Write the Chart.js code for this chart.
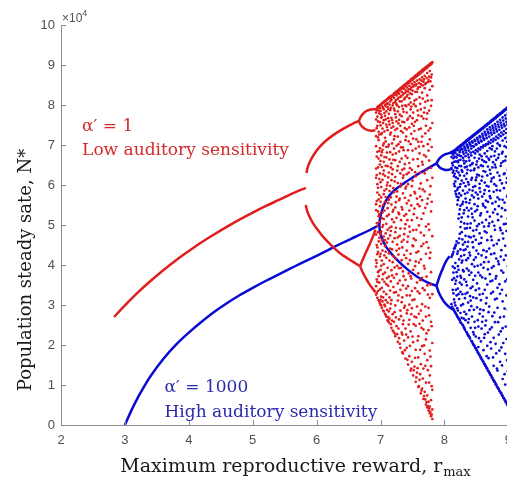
<!DOCTYPE html>
<html>
<head>
<meta charset="utf-8">
<script src="https://cdn.jsdelivr.net/npm/chart.js@4.4.1/dist/chart.umd.min.js"></script>
<style>
  html, body { margin: 0; padding: 0; overflow: hidden; background: #fff; }
  canvas { display: block; }
</style>
</head>
<body>
<canvas id="chart" width="520" height="479"></canvas>
<script>
// axis ticks (N* is in units of 10^4)
const xTicks = [2, 3, 4, 5, 6, 7, 8, 9]
const yTicks = [0, 1, 2, 3, 4, 5, 6, 7, 8, 9, 10]

// alpha' = 1 (low auditory sensitivity): [r_max, N*]
const redMain = [[2.83, 2.70], [3.0, 2.99], [3.2, 3.31], [3.4, 3.60], [3.6, 3.87], [3.8, 4.12], [4.0, 4.35],
  [4.2, 4.57], [4.4, 4.77], [4.6, 4.96], [4.8, 5.14], [5.0, 5.31], [5.2, 5.47], [5.4, 5.62], [5.6, 5.77], [5.83, 5.93]]
const redUpper2 = [[5.84, 6.30], [5.86, 6.44], [5.9, 6.60], [5.96, 6.77], [6.04, 6.94], [6.14, 7.10], [6.27, 7.26], [6.42, 7.41], [6.56, 7.53], [6.66, 7.60]]
const redLower2 = [[5.83, 5.50], [5.85, 5.36], [5.89, 5.20], [5.95, 5.03], [6.03, 4.85], [6.12, 4.67], [6.23, 4.49], [6.36, 4.30], [6.5, 4.15], [6.6, 4.05], [6.68, 3.97]]
const redUpper4a = [[6.66, 7.60], [6.70, 7.73], [6.76, 7.83], [6.83, 7.88], [6.92, 7.90]]
const redUpper4b = [[6.66, 7.60], [6.70, 7.48], [6.76, 7.40], [6.83, 7.36], [6.92, 7.37]]
const redLower4a = [[6.68, 3.97], [6.72, 4.13], [6.77, 4.31], [6.83, 4.52], [6.88, 4.71], [6.92, 4.88]]
const redLower4b = [[6.68, 3.97], [6.72, 3.82], [6.77, 3.67], [6.83, 3.51], [6.92, 3.32]]
// chaotic region: [r_max, [N* values]]
const redChaos = [
  [6.93, [7.90, 7.81, 7.64, 7.22, 6.97, 6.41, 6.18, 5.52, 5.37, 4.76, 4.12, 3.96, 3.47, 3.26]],
  [6.94, [7.87, 7.42, 6.71, 6.25, 5.60, 5.05, 4.50, 4.05, 3.64, 3.30]],
  [6.95, [7.94, 7.71, 7.48, 6.83, 6.02, 5.81, 4.98, 4.44, 4.27, 3.58, 3.18]],
  [6.96, [7.96, 7.59, 7.19, 6.44, 5.93, 5.34, 4.82, 4.33, 3.82, 3.35]],
  [6.97, [7.97, 7.86, 7.33, 7.12, 6.66, 5.64, 5.22, 4.59, 3.85, 3.72, 3.12]],
  [6.98, [7.93, 7.79, 7.26, 6.85, 6.15, 5.75, 5.27, 4.68, 3.56, 3.09]],
  [6.99, [7.99, 7.92, 7.57, 6.92, 6.51, 6.29, 5.47, 5.08, 4.21, 3.39, 3.04]],
  [7.00, [8.01, 7.85, 7.49, 6.60, 6.07, 5.58, 4.77, 4.28, 3.88, 3.13, 3.00]],
  [7.01, [8.01, 7.76, 7.68, 7.27, 6.74, 5.95, 5.69, 4.84, 4.53, 3.98, 3.21, 2.99]],
  [7.02, [8.04, 7.70, 7.30, 6.82, 6.45, 5.17, 4.62, 4.11, 3.43, 2.93]],
  [7.03, [8.05, 7.96, 7.41, 6.88, 6.13, 5.31, 4.95, 4.36, 3.64, 3.09]],
  [7.04, [8.06, 7.92, 7.55, 6.99, 6.27, 5.50, 5.00, 3.77, 3.19, 2.86]],
  [7.05, [8.07, 7.89, 7.62, 7.04, 6.58, 6.36, 5.77, 5.15, 4.71, 4.02, 3.33, 2.84]],
  [7.06, [8.09, 7.80, 7.34, 6.70, 5.86, 5.36, 4.24, 3.58, 3.01]],
  [7.07, [8.10, 8.01, 7.73, 7.18, 6.23, 5.58, 4.62, 4.47, 3.81, 2.97, 2.78]],
  [7.08, [8.11, 7.97, 7.64, 7.09, 6.48, 5.70, 4.79, 4.33, 3.12, 2.75]],
  [7.09, [8.12, 7.84, 7.51, 6.95, 6.69, 5.90, 5.03, 4.18, 3.52, 3.27, 2.71]],
  [7.10, [8.14, 8.03, 7.45, 6.81, 5.99, 5.22, 4.56, 3.67, 2.88]],
  [7.11, [8.15, 8.05, 7.95, 7.37, 6.47, 6.06, 5.42, 4.88, 3.93, 3.06, 2.62]],
  [7.12, [8.17, 7.90, 7.67, 6.96, 6.19, 5.55, 4.66, 3.48, 2.70, 2.60]],
  [7.13, [8.17, 7.78, 7.59, 7.01, 6.31, 5.63, 5.26, 4.29, 3.71, 2.84, 2.56]],
  [7.14, [8.20, 8.01, 7.51, 6.64, 5.85, 4.93, 4.11, 3.19, 2.66]],
  [7.15, [8.21, 8.09, 7.87, 7.26, 6.82, 5.98, 4.74, 4.41, 3.36, 2.91]],
  [7.16, [8.16, 7.93, 7.31, 6.44, 5.69, 4.85, 3.59, 3.03, 2.52]],
  [7.17, [8.23, 8.13, 7.68, 7.43, 6.54, 6.12, 5.51, 4.96, 3.87, 3.12, 2.43]],
  [7.18, [8.21, 7.62, 7.04, 6.27, 5.14, 4.39, 3.74, 2.61]],
  [7.19, [8.25, 7.99, 7.55, 6.76, 6.39, 5.33, 4.58, 4.07, 2.77, 2.36]],
  [7.20, [8.24, 8.05, 7.46, 6.63, 5.92, 5.38, 4.22, 3.45, 2.34]],
  [7.21, [8.29, 8.18, 7.91, 7.14, 6.91, 5.82, 5.07, 3.68, 3.31, 2.58]],
  [7.22, [8.26, 7.86, 7.22, 6.09, 4.67, 3.94, 2.82, 2.29]],
  [7.23, [8.31, 8.07, 7.77, 7.38, 6.62, 6.20, 5.44, 4.82, 4.16, 2.99, 2.22]],
  [7.24, [8.29, 8.12, 7.69, 6.79, 5.57, 4.93, 3.32, 2.69]],
  [7.25, [8.34, 8.24, 8.02, 7.59, 6.98, 5.71, 5.18, 4.36, 3.77, 2.47]],
  [7.26, [8.30, 7.99, 7.41, 6.36, 5.84, 4.51, 3.98, 2.27]],
  [7.27, [8.36, 8.15, 7.84, 7.21, 6.47, 6.05, 4.69, 3.54, 3.11, 2.08]],
  [7.28, [8.33, 8.18, 7.54, 7.02, 5.31, 4.26, 3.24, 2.41]],
  [7.29, [8.39, 8.28, 7.95, 7.63, 6.84, 5.62, 5.27, 4.41, 3.92, 2.64, 2.17]],
  [7.30, [8.37, 8.09, 7.76, 6.58, 5.66, 4.73, 3.61, 2.03]],
  [7.31, [8.42, 8.20, 7.48, 7.08, 6.29, 5.96, 4.91, 3.38, 2.86, 1.93]],
  [7.32, [8.40, 8.22, 7.35, 6.94, 6.03, 5.12, 3.93, 2.72]],
  [7.33, [8.44, 8.33, 8.09, 7.72, 6.66, 5.45, 4.58, 4.12, 3.07, 2.31]],
  [7.34, [8.42, 7.98, 7.58, 6.38, 5.39, 4.44, 3.19, 2.26, 1.82]],
  [7.35, [8.47, 8.26, 7.90, 7.31, 6.94, 6.18, 5.79, 3.84, 3.49, 2.52, 1.79]],
  [7.36, [8.45, 8.29, 7.83, 6.87, 6.24, 4.63, 3.72, 2.61]],
  [7.37, [8.50, 8.40, 8.14, 7.57, 6.41, 5.23, 4.77, 4.25, 2.93, 2.11]],
  [7.38, [8.48, 8.18, 7.42, 6.52, 5.68, 4.91, 2.98, 1.87]],
  [7.39, [8.52, 8.31, 7.99, 7.12, 6.73, 5.91, 5.02, 3.63, 2.41, 1.66]],
  [7.40, [8.50, 8.36, 7.97, 7.21, 5.96, 5.27, 4.17, 3.41, 2.26]],
  [7.41, [8.55, 8.44, 8.21, 7.81, 7.39, 6.27, 5.54, 4.36, 3.24, 2.79, 1.93]],
  [7.42, [8.53, 8.25, 7.63, 6.68, 5.12, 4.58, 2.87, 1.63]],
  [7.43, [8.58, 8.34, 7.66, 6.87, 6.02, 4.71, 4.03, 3.47, 2.19, 1.51]],
  [7.44, [8.55, 8.40, 8.01, 7.09, 6.31, 5.61, 3.79, 2.51]],
  [7.45, [8.60, 8.48, 8.17, 7.44, 6.55, 5.36, 4.96, 3.01, 2.63, 1.72]],
  [7.46, [8.58, 8.29, 7.72, 6.42, 4.83, 4.12, 3.24, 1.98]],
  [7.47, [8.63, 8.39, 8.06, 7.89, 7.02, 5.74, 4.28, 3.72, 2.34, 1.36]],
  [7.48, [8.61, 8.44, 7.96, 7.28, 5.49, 3.66, 2.77, 1.41]],
  [7.49, [8.66, 8.53, 8.27, 7.53, 6.38, 5.97, 5.12, 3.35, 2.92, 1.58]],
  [7.50, [8.63, 8.36, 7.67, 6.86, 6.11, 4.49, 3.12, 2.21]],
  [7.51, [8.68, 8.46, 7.81, 7.16, 6.64, 4.87, 4.47, 3.88, 2.07, 1.24]],
  [7.52, [8.66, 8.49, 8.02, 7.48, 5.27, 4.66, 2.52, 1.37]],
  [7.53, [8.71, 8.57, 8.11, 7.35, 5.83, 5.41, 3.14, 2.71, 1.46]],
  [7.54, [8.69, 8.33, 7.58, 6.32, 5.79, 3.97, 3.42, 1.68]],
  [7.55, [8.74, 8.49, 7.97, 6.91, 6.22, 4.62, 4.09, 2.48, 1.88, 1.08]],
  [7.56, [8.71, 8.52, 8.14, 7.14, 4.88, 4.31, 2.69, 1.19]],
  [7.57, [8.76, 8.61, 8.33, 7.62, 5.66, 5.18, 3.56, 2.96, 1.31]],
  [7.58, [8.74, 8.40, 7.86, 6.65, 5.52, 3.34, 2.11, 1.42]],
  [7.59, [8.79, 8.44, 7.74, 7.08, 6.47, 4.34, 3.79, 2.22, 1.69, 0.95]],
  [7.60, [8.76, 8.55, 7.39, 6.96, 4.99, 4.06, 2.78, 0.97]],
  [7.61, [8.82, 8.64, 8.19, 6.79, 5.91, 5.47, 3.29, 2.53, 1.13]],
  [7.62, [8.79, 8.45, 8.03, 6.31, 5.71, 3.62, 1.88, 1.27]],
  [7.63, [8.84, 8.52, 7.89, 7.41, 6.04, 4.81, 4.14, 2.86, 1.52, 0.79]],
  [7.64, [8.82, 8.61, 7.72, 7.08, 5.15, 4.47, 2.43, 0.86]],
  [7.65, [8.87, 8.69, 8.31, 7.21, 6.58, 5.62, 3.68, 3.02, 1.97, 0.91]],
  [7.66, [8.84, 8.49, 8.16, 6.51, 5.89, 3.42, 2.61, 1.16]],
  [7.67, [8.90, 8.58, 7.66, 6.97, 5.29, 4.53, 2.39, 1.41, 0.65]],
  [7.68, [8.87, 8.64, 7.81, 6.75, 4.74, 3.98, 1.99, 0.72]],
  [7.69, [8.92, 8.73, 8.42, 7.93, 6.29, 5.84, 3.91, 3.37, 1.78, 0.83]],
  [7.70, [8.90, 8.52, 8.08, 7.29, 5.43, 2.96, 1.48, 0.64]],
  [7.71, [8.95, 8.55, 7.48, 6.71, 4.96, 4.28, 2.71, 2.14, 1.06, 0.51]],
  [7.72, [8.92, 8.68, 7.65, 6.38, 4.57, 3.71, 2.29, 0.57]],
  [7.73, [8.97, 8.80, 8.24, 7.79, 6.12, 5.53, 3.49, 1.62, 0.74, 0.44]],
  [7.74, [8.95, 8.57, 8.11, 7.02, 5.66, 3.26, 1.37, 0.47]],
  [7.75, [9.00, 8.63, 7.36, 6.86, 5.02, 4.43, 2.93, 2.37, 0.58, 0.36]],
  [7.76, [8.98, 8.71, 7.86, 6.61, 4.88, 2.74, 1.06, 0.41]],
  [7.77, [9.03, 8.85, 8.38, 7.14, 5.76, 4.17, 3.18, 1.86, 1.24, 0.46, 0.29]],
  [7.78, [9.00, 8.59, 7.42, 5.97, 4.31, 3.51, 1.71, 0.33]],
  [7.79, [9.05, 8.69, 7.98, 6.43, 5.34, 3.82, 2.58, 1.47, 0.62, 0.22]],
  [7.80, [9.03, 8.76, 8.12, 6.95, 5.58, 2.47, 0.97, 0.26]],
  [7.81, [9.07, 8.47, 7.55, 6.18, 4.72, 3.27, 2.05, 0.88, 0.39, 0.15]]
]

// alpha' = 1000 (high auditory sensitivity): [r_max, N*]
const blueMain = [[3.0, 0.0], [3.1, 0.36], [3.2, 0.68], [3.3, 0.96], [3.4, 1.22], [3.6, 1.65], [3.8, 2.01], [4.0, 2.31],
  [4.2, 2.58], [4.4, 2.83], [4.6, 3.05], [4.8, 3.25], [5.0, 3.43], [5.2, 3.60], [5.4, 3.76], [5.6, 3.92], [5.8, 4.08],
  [6.0, 4.23], [6.2, 4.39], [6.4, 4.55], [6.6, 4.70], [6.8, 4.85], [6.98, 5.00]]
const blueUpper2 = [[6.98, 5.00], [6.99, 5.15], [7.02, 5.35], [7.07, 5.56], [7.14, 5.74], [7.24, 5.90], [7.38, 6.06], [7.53, 6.22], [7.7, 6.38], [7.875, 6.54]]
const blueLower2 = [[6.98, 5.00], [6.99, 4.86], [7.02, 4.68], [7.07, 4.50], [7.15, 4.32], [7.27, 4.11], [7.42, 3.89], [7.58, 3.70], [7.74, 3.56], [7.875, 3.48]]
const blueUpper4a = [[7.875, 6.54], [7.93, 6.68], [8.0, 6.76], [8.06, 6.79], [8.12, 6.82]]
const blueUpper4b = [[7.875, 6.54], [7.93, 6.43], [8.0, 6.38], [8.06, 6.38], [8.12, 6.41]]
const blueLower4a = [[7.875, 3.48], [7.92, 3.70], [7.97, 3.90], [8.02, 4.08], [8.08, 4.22]]
const blueLower4b = [[7.875, 3.48], [7.92, 3.28], [7.99, 3.09], [8.06, 2.97], [8.13, 2.89]]
const blueChaos = [
  [8.11, [6.82, 6.70, 6.42, 4.20, 3.02, 2.93]],
  [8.12, [6.80, 6.55, 4.24, 3.63, 2.95]],
  [8.13, [6.84, 6.76, 6.49, 6.31, 4.28, 3.96, 3.38, 2.91]],
  [8.14, [6.83, 6.67, 6.36, 4.33, 3.81, 3.29, 2.89]],
  [8.15, [6.86, 6.79, 6.58, 6.22, 6.03, 4.41, 3.67, 3.14, 2.86]],
  [8.16, [6.85, 6.71, 6.28, 5.97, 4.42, 3.92, 3.06, 2.83]],
  [8.17, [6.88, 6.81, 6.44, 6.09, 5.84, 4.47, 4.05, 3.53, 2.99, 2.80]],
  [8.18, [6.87, 6.59, 6.19, 5.77, 4.51, 3.61, 3.38, 2.78]],
  [8.19, [6.91, 6.69, 6.35, 5.71, 4.59, 3.82, 3.24, 2.75]],
  [8.20, [6.90, 6.76, 6.42, 5.88, 5.51, 4.28, 3.71, 2.92, 2.72]],
  [8.21, [6.94, 6.87, 6.57, 6.16, 5.93, 5.62, 4.34, 3.97, 3.41, 2.86, 2.69]],
  [8.22, [6.93, 6.61, 6.31, 5.69, 5.16, 4.55, 3.88, 3.27, 2.67]],
  [8.23, [6.96, 6.74, 6.48, 5.79, 5.27, 4.66, 4.14, 3.15, 2.64]],
  [8.24, [6.95, 6.82, 6.24, 5.95, 5.39, 4.78, 3.56, 2.62]],
  [8.25, [6.99, 6.88, 6.63, 6.02, 5.48, 4.95, 4.39, 3.73, 3.33, 2.80, 2.57]],
  [8.26, [6.98, 6.72, 6.47, 5.74, 5.08, 4.22, 3.68, 2.99, 2.55]],
  [8.27, [7.01, 6.91, 6.37, 6.11, 5.19, 4.82, 4.06, 3.51, 2.68]],
  [8.28, [7.00, 6.89, 6.33, 5.52, 4.64, 4.11, 3.27, 2.51]],
  [8.29, [7.04, 6.83, 6.68, 5.86, 5.58, 4.51, 3.87, 3.02, 2.49]],
  [8.30, [7.03, 6.78, 6.61, 6.05, 5.29, 4.37, 3.84, 2.66, 2.45]],
  [8.31, [7.06, 6.96, 6.54, 6.23, 5.37, 5.04, 4.25, 3.64, 2.83, 2.42]],
  [8.32, [7.06, 6.92, 6.44, 5.78, 4.91, 4.57, 3.17, 2.38]],
  [8.33, [7.09, 6.87, 6.72, 5.97, 5.66, 4.73, 4.39, 3.28, 2.62]],
  [8.34, [7.08, 6.81, 6.59, 6.15, 5.57, 4.12, 3.58, 2.77, 2.33]],
  [8.35, [7.12, 7.01, 6.46, 6.29, 5.43, 4.92, 3.91, 3.49, 2.31]],
  [8.36, [7.11, 6.97, 6.38, 5.81, 5.03, 4.46, 3.31, 2.27]],
  [8.37, [7.14, 6.93, 6.76, 6.07, 5.21, 4.58, 4.17, 3.06, 2.56, 2.25]],
  [8.38, [7.13, 6.86, 6.69, 6.01, 5.36, 4.71, 3.86, 2.65, 2.22]],
  [8.39, [7.17, 7.06, 6.61, 5.88, 5.55, 4.31, 3.75, 2.87, 2.20]],
  [8.40, [7.16, 7.02, 6.49, 5.63, 4.93, 4.24, 3.22, 2.16]],
  [8.41, [7.19, 6.98, 6.81, 6.36, 5.04, 4.69, 3.42, 3.11, 2.43]],
  [8.42, [7.19, 6.91, 6.74, 6.13, 5.41, 3.81, 2.97, 2.10]],
  [8.43, [7.22, 7.09, 6.52, 6.18, 5.74, 5.28, 4.02, 2.71, 2.09]],
  [8.44, [7.21, 7.06, 6.55, 5.86, 5.19, 4.57, 3.46, 2.05]],
  [8.45, [7.25, 6.97, 6.83, 5.95, 4.86, 4.44, 3.63, 3.19, 2.32, 2.02]],
  [8.46, [7.24, 6.96, 6.37, 5.69, 4.72, 4.13, 2.88, 2.26, 1.99]],
  [8.47, [7.27, 7.13, 6.68, 6.41, 5.52, 5.11, 3.96, 2.58, 1.98]],
  [8.48, [7.26, 7.10, 6.79, 5.97, 5.34, 3.73, 2.43, 1.93]],
  [8.49, [7.30, 7.02, 6.87, 6.12, 5.81, 4.63, 4.19, 3.37, 2.21, 1.92]],
  [8.50, [7.29, 7.01, 6.51, 6.19, 4.88, 4.36, 3.17, 1.88]],
  [8.51, [7.32, 7.18, 6.59, 6.26, 5.38, 4.97, 3.54, 2.94, 1.86]],
  [8.52, [7.31, 7.14, 6.84, 5.76, 5.47, 3.98, 2.62, 1.82]],
  [8.53, [7.35, 7.08, 6.91, 6.44, 5.66, 4.28, 3.81, 2.46, 1.95, 1.80]],
  [8.54, [7.34, 7.05, 6.66, 6.24, 5.02, 4.53, 3.41, 2.17, 1.76]],
  [8.55, [7.37, 7.22, 6.76, 6.03, 5.92, 4.79, 3.26, 2.78, 1.75]],
  [8.56, [7.36, 7.19, 6.89, 5.83, 5.24, 3.74, 2.89, 1.70]],
  [8.57, [7.40, 7.11, 6.95, 6.49, 5.29, 4.55, 4.01, 3.12, 2.09, 1.69]],
  [8.58, [7.39, 7.09, 6.72, 6.11, 4.68, 4.24, 2.41, 1.65]],
  [8.59, [7.42, 7.28, 6.63, 6.21, 5.71, 5.06, 3.69, 2.58, 1.63]],
  [8.60, [7.41, 7.23, 6.94, 6.47, 5.53, 3.28, 2.71, 1.59]],
  [8.61, [7.45, 7.17, 6.99, 6.35, 5.48, 4.37, 3.93, 2.87, 1.87, 1.58]],
  [8.62, [7.44, 7.13, 6.59, 5.78, 4.96, 4.07, 2.18, 1.53]],
  [8.63, [7.48, 7.33, 6.79, 6.06, 5.87, 4.84, 3.38, 2.27, 1.52]],
  [8.64, [7.47, 7.28, 6.98, 6.33, 5.44, 3.66, 2.49, 1.48]],
  [8.65, [7.50, 7.24, 7.02, 6.57, 5.61, 5.13, 4.19, 3.04, 2.61, 1.46]],
  [8.66, [7.49, 7.17, 6.71, 5.98, 4.81, 4.34, 3.18, 1.72, 1.42]],
  [8.67, [7.53, 7.39, 6.85, 6.24, 5.33, 4.62, 3.51, 1.98, 1.41]],
  [8.68, [7.52, 7.33, 7.02, 6.46, 5.58, 3.89, 2.31, 1.36]],
  [8.69, [7.55, 7.29, 7.08, 6.66, 5.96, 4.97, 4.08, 2.82, 1.67, 1.35]],
  [8.70, [7.54, 7.21, 6.63, 5.85, 5.04, 4.41, 2.96, 1.31]],
  [8.71, [7.58, 7.44, 6.92, 6.38, 5.72, 5.21, 3.77, 2.39, 1.29]],
  [8.72, [7.57, 7.38, 7.05, 6.28, 5.67, 3.59, 2.07, 1.25]],
  [8.73, [7.61, 7.31, 7.13, 6.71, 6.09, 4.71, 4.27, 3.29, 1.91, 1.24]],
  [8.74, [7.60, 7.26, 6.89, 6.16, 4.62, 3.93, 2.44, 1.19]],
  [8.75, [7.63, 7.48, 6.97, 6.44, 5.54, 5.08, 3.61, 2.72, 1.18]],
  [8.76, [7.62, 7.42, 7.09, 6.57, 5.31, 3.33, 1.69, 1.13]],
  [8.77, [7.66, 7.36, 7.16, 6.19, 5.83, 4.49, 3.97, 2.18, 1.48, 1.12]],
  [8.78, [7.65, 7.30, 6.73, 6.02, 4.98, 4.29, 2.81, 1.08]],
  [8.79, [7.68, 7.52, 6.84, 6.51, 5.39, 4.88, 3.14, 2.57, 1.07]],
  [8.80, [7.67, 7.46, 7.13, 6.44, 5.58, 3.66, 2.03, 1.02]],
  [8.81, [7.71, 7.40, 7.21, 6.63, 5.98, 4.16, 3.72, 1.79, 1.01]],
  [8.82, [7.70, 7.34, 6.91, 5.87, 4.53, 3.16, 1.41, 0.96]],
  [8.83, [7.74, 7.58, 7.04, 6.31, 5.69, 5.27, 3.43, 2.93, 1.36, 0.95]],
  [8.84, [7.73, 7.51, 7.17, 6.68, 5.12, 4.09, 2.57, 0.91]],
  [8.85, [7.76, 7.45, 7.26, 6.76, 5.47, 4.62, 4.02, 2.26, 0.90]],
  [8.86, [7.75, 7.38, 7.00, 6.23, 5.64, 3.52, 1.86, 0.85]],
  [8.87, [7.79, 7.63, 6.98, 6.12, 5.86, 4.93, 3.28, 2.69, 1.58, 0.84]],
  [8.88, [7.78, 7.56, 7.22, 6.48, 4.87, 4.21, 2.34, 0.80]],
  [8.89, [7.81, 7.49, 7.31, 6.55, 5.21, 4.37, 3.86, 1.94, 0.79]],
  [8.90, [7.80, 7.43, 6.79, 6.04, 5.42, 3.38, 1.49, 0.74]],
  [8.91, [7.84, 7.69, 7.11, 6.83, 5.63, 4.79, 3.09, 2.42, 1.15, 0.73]],
  [8.92, [7.83, 7.61, 7.26, 6.59, 4.66, 3.81, 2.05, 0.68]],
  [8.93, [7.87, 7.53, 7.35, 6.27, 5.92, 5.02, 4.13, 2.71, 0.67]],
  [8.94, [7.86, 7.47, 6.97, 6.29, 5.56, 2.91, 1.27, 0.63]],
  [8.95, [7.89, 7.74, 7.17, 6.61, 5.37, 4.48, 3.59, 1.78, 1.01, 0.61]],
  [8.96, [7.88, 7.66, 7.30, 6.71, 5.03, 4.24, 2.46, 0.57]],
  [8.97, [7.92, 7.58, 7.40, 6.94, 6.06, 4.85, 3.24, 2.15, 0.56]],
  [8.98, [7.91, 7.51, 7.08, 6.17, 5.71, 3.64, 1.62, 0.51]],
  [8.99, [7.95, 7.79, 7.21, 6.38, 5.75, 5.16, 3.97, 2.88, 1.34, 0.49]]
]

const RED = "#e01e1e"
const BLUE = "#0a0ad2"
const AXIS = "#8c8c8c"
const TICK_TEXT = "#505050"

const pts = arr => arr.map(([x, y]) => ({ x, y }))
const cloud = cols => cols.flatMap(([x, ys]) => ys.map(y => ({ x, y })))

function curve(data, color) {
  return {
    data: pts(data),
    showLine: true,
    borderColor: color,
    borderWidth: 2.5,
    pointRadius: 0,
    tension: 0.35
  }
}

function dots(data, color) {
  return {
    data: cloud(data),
    showLine: false,
    pointRadius: 1.35,
    pointBorderWidth: 0,
    pointBackgroundColor: color
  }
}

// ticks, exponent label, annotations and axis titles
const decorations = {
  id: "decorations",
  afterDraw(chart) {
    const { ctx, chartArea: area, scales: { x, y } } = chart
    ctx.save()

    // inward tick marks
    ctx.strokeStyle = AXIS
    ctx.lineWidth = 1
    ctx.beginPath()
    xTicks.forEach(v => {
      const px = Math.round(x.getPixelForValue(v)) + 0.5
      ctx.moveTo(px, area.bottom)
      ctx.lineTo(px, area.bottom - 5)
    })
    yTicks.forEach(v => {
      const py = Math.round(y.getPixelForValue(v)) + 0.5
      ctx.moveTo(area.left, py)
      ctx.lineTo(area.left + 5, py)
    })
    ctx.stroke()

    // x10^4 exponent
    ctx.fillStyle = TICK_TEXT
    ctx.textBaseline = "alphabetic"
    ctx.textAlign = "left"
    ctx.font = '12px "Liberation Sans"'
    ctx.fillText("\u00d710", area.left + 1, area.top - 3)
    const w = ctx.measureText("\u00d710").width
    ctx.font = '9px "Liberation Sans"'
    ctx.fillText("4", area.left + 1 + w, area.top - 9)

    // annotations
    const notes = [
      { text: "\u03b1\u2032 = 1", r: 2.33, n: 7.35, color: "#d42a2a" },
      { text: "Low auditory sensitivity", r: 2.33, n: 6.75, color: "#d42a2a" },
      { text: "\u03b1\u2032 = 1000", r: 3.62, n: 0.83, color: "#2a2aaa" },
      { text: "High auditory sensitivity", r: 3.62, n: 0.20, color: "#2a2aaa" }
    ]
    ctx.font = '17px "DejaVu Serif"'
    notes.forEach(nt => {
      ctx.fillStyle = nt.color
      ctx.fillText(nt.text, x.getPixelForValue(nt.r), y.getPixelForValue(nt.n))
    })

    // x axis title with subscript
    ctx.fillStyle = "#1a1a1a"
    const mainText = "Maximum reproductive reward, r"
    const subText = "max"
    ctx.font = '19px "DejaVu Serif"'
    const mw = ctx.measureText(mainText).width
    ctx.font = '13px "DejaVu Serif"'
    const sw = ctx.measureText(subText).width
    const startX = 295 - (mw + sw) / 2
    ctx.font = '19px "DejaVu Serif"'
    ctx.fillText(mainText, startX, 472)
    ctx.font = '13px "DejaVu Serif"'
    ctx.fillText(subText, startX + mw + 1, 476)

    // y axis title
    ctx.translate(31, 270)
    ctx.rotate(-Math.PI / 2)
    ctx.textAlign = "center"
    ctx.font = '18px "DejaVu Serif"'
    ctx.fillText("Population steady sate, N*", 0, 0)

    ctx.restore()
  }
}

const ctx = document.getElementById("chart").getContext("2d")

new Chart(ctx, {
  type: "scatter",
  data: {
    datasets: [
      curve(redMain, RED),
      curve(redUpper2, RED),
      curve(redLower2, RED),
      curve(redUpper4a, RED),
      curve(redUpper4b, RED),
      curve(redLower4a, RED),
      curve(redLower4b, RED),
      dots(redChaos, RED),
      curve(blueMain, BLUE),
      curve(blueUpper2, BLUE),
      curve(blueLower2, BLUE),
      curve(blueUpper4a, BLUE),
      curve(blueUpper4b, BLUE),
      curve(blueLower4a, BLUE),
      curve(blueLower4b, BLUE),
      dots(blueChaos, BLUE)
    ]
  },
  options: {
    responsive: false,
    animation: false,
    layout: { padding: { top: 25, right: 11, bottom: 0, left: 0 } },
    plugins: {
      legend: { display: false },
      tooltip: { enabled: false }
    },
    scales: {
      x: {
        type: "linear",
        min: 2,
        max: 9,
        afterBuildTicks: scale => { scale.ticks = xTicks.map(value => ({ value })) },
        afterFit: scale => { scale.height = 54 },
        grid: { drawOnChartArea: false, drawTicks: false },
        border: { display: true, color: AXIS, width: 1 },
        ticks: {
          autoSkip: false,
          maxRotation: 0,
          padding: 8,
          color: TICK_TEXT,
          font: { family: "Liberation Sans", size: 13 }
        }
      },
      y: {
        type: "linear",
        min: 0,
        max: 10,
        afterBuildTicks: scale => { scale.ticks = yTicks.map(value => ({ value })) },
        afterFit: scale => { scale.width = 61 },
        grid: { drawOnChartArea: false, drawTicks: false },
        border: { display: true, color: AXIS, width: 1 },
        ticks: {
          autoSkip: false,
          padding: 6,
          color: TICK_TEXT,
          font: { family: "Liberation Sans", size: 13 }
        }
      }
    }
  },
  plugins: [decorations]
})
</script>
</body>
</html>
